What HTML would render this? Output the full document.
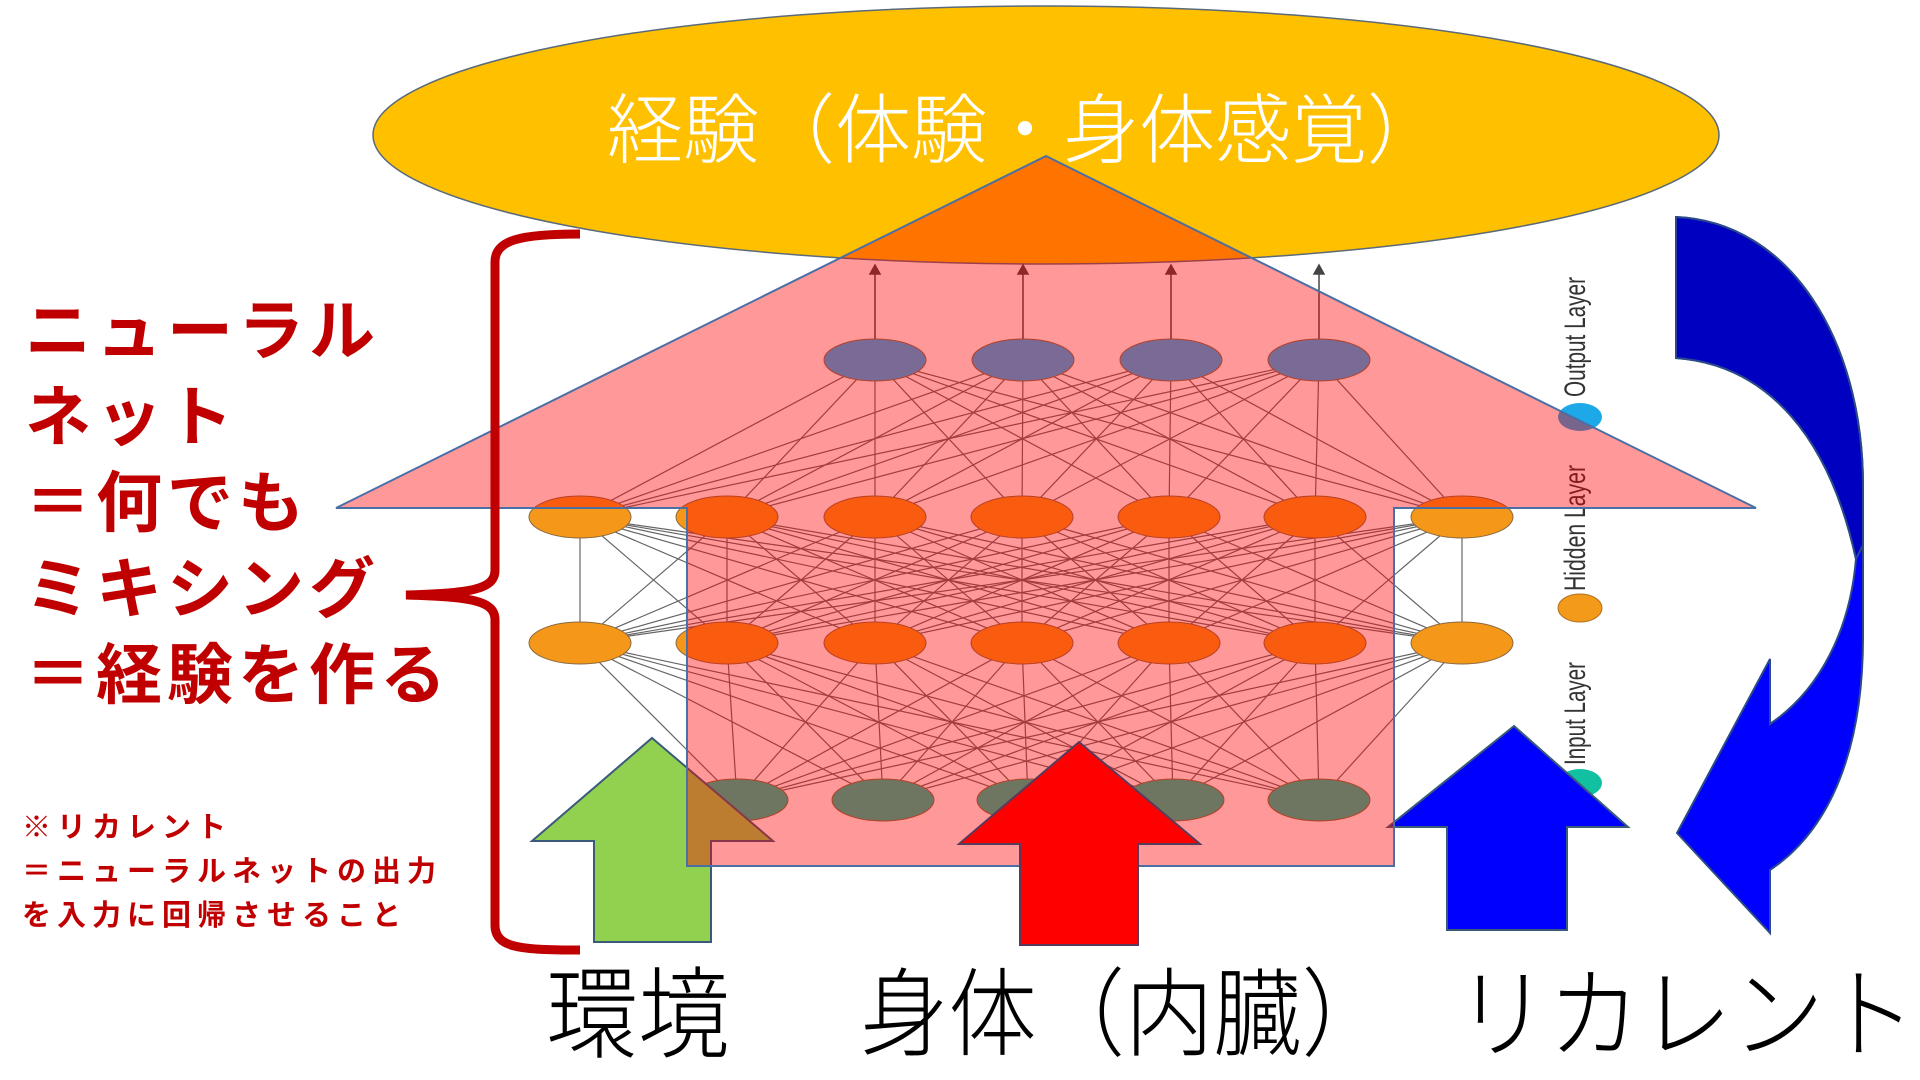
<!DOCTYPE html>
<html><head><meta charset="utf-8"><style>
html,body{margin:0;padding:0;background:#fff;width:1920px;height:1080px;overflow:hidden}
.t{position:absolute;white-space:nowrap;font-family:"Liberation Sans","Noto Sans CJK JP",sans-serif}
.red{color:#c00000;font-weight:bold}
.b{font-weight:300;color:#000;transform-origin:0 0;transform:scaleX(0.92)}
</style></head><body>
<svg width="1920" height="1080" style="position:absolute;left:0;top:0" xmlns="http://www.w3.org/2000/svg">
<ellipse cx="1046" cy="135" rx="673" ry="129" fill="#ffc000" stroke="#5a6a7a" stroke-width="1.5"/>
<g id="lines" stroke="#666" stroke-width="1.2"></g>
<g stroke="#444" stroke-width="1.5" fill="#444">
<line x1="875" y1="340" x2="875" y2="272"/><polygon points="870,274 880,274 875,265"/>
<line x1="1023" y1="340" x2="1023" y2="272"/><polygon points="1018,274 1028,274 1023,265"/>
<line x1="1171" y1="340" x2="1171" y2="272"/><polygon points="1166,274 1176,274 1171,265"/>
<line x1="1319" y1="340" x2="1319" y2="272"/><polygon points="1314,274 1324,274 1319,265"/>
</g>
<g id="nodes" stroke="#8a6a40" stroke-width="1"></g>
<g font-family="Liberation Sans, sans-serif" font-size="30" fill="#333">
<text transform="translate(1585,397) rotate(-90)" textLength="120" lengthAdjust="spacingAndGlyphs">Output Layer</text>
<text transform="translate(1585,591) rotate(-90)" textLength="126" lengthAdjust="spacingAndGlyphs">Hidden Layer</text>
<text transform="translate(1585,765) rotate(-90)" textLength="103" lengthAdjust="spacingAndGlyphs">Input Layer</text>
</g>
<ellipse cx="1580" cy="417" rx="22" ry="14" fill="#1da8e8"/>
<ellipse cx="1580" cy="608" rx="22" ry="14" fill="#f39a1a" stroke="#b07020"/>
<ellipse cx="1580" cy="783" rx="22" ry="14" fill="#10c0a0"/>
<polygon points="652,738 773,841 711,841 711,942 594,942 594,841 532,841" fill="#92d050" stroke="#3a5a7a" stroke-width="2"/>
<polygon points="1514,726 1628,827 1567,827 1567,930 1447,930 1447,827 1388,827" fill="#0000ff" stroke="#3a5a7a" stroke-width="2"/>
<polygon points="1046,156 1756,508 1394,508 1394,866 687,866 687,508 336,508" fill="rgba(255,0,0,0.4)" stroke="#4a6fa5" stroke-width="2"/>
<polygon points="1079,742 1200,844 1138,844 1138,945 1020,945 1020,844 959,844" fill="#ff0000" stroke="#5a3a5a" stroke-width="2"/>
<path d="M1676,217 C1790,222 1863,340 1863,486 L1863,637 C1863,750 1830,830 1770,870 L1770,933 L1677,833 L1770,659 L1770,724 C1820,690 1850,630 1856,559 C1830,440 1770,365 1676,358 Z" fill="#0000ff" stroke="#2a4a8a" stroke-width="2"/>
<path d="M1676,217 C1790,222 1863,340 1863,486 L1863,545 L1856,559 C1830,440 1770,365 1676,358 Z" fill="#0000c0" stroke="#2a4a8a" stroke-width="2"/>
<path d="M580,234 C520,234 495,240 495,262 L495,570 C495,590 470,593 406,595 C470,597 495,600 495,620 L495,925 C495,948 520,950 580,950" fill="none" stroke="#c00000" stroke-width="9"/>
</svg>
<div class="t" style="left:607px;top:86px;font-size:76px;line-height:92px;color:#fff;font-weight:300">経験（体験・身体感覚）</div>
<div class="t red" style="left:25px;top:288px;font-size:66px;line-height:86px;letter-spacing:5px">ニューラル<br>ネット<br>＝何でも<br>ミキシング<br>＝経験を作る</div>
<div class="t red" style="left:22px;top:806px;font-size:29px;line-height:44px;letter-spacing:6px">※リカレント<br>＝ニューラルネットの出力<br>を入力に回帰させること</div>
<div class="t b" style="left:546px;top:960px;font-size:100px;line-height:112px">環境</div>
<div class="t b" style="left:860px;top:960px;font-size:96px;line-height:112px">身体（内臓）</div>
<div class="t b" style="left:1456px;top:960px;font-size:100px;line-height:112px">リカレント</div>
<script>
var NS="http://www.w3.org/2000/svg";
var out=[875,1023,1171,1319],hid=[580,727,875,1022,1169,1315,1462],inp=[737,883,1028,1173,1319];
var yO=360,yH1=517,yH2=643,yI=800;
var L=document.getElementById('lines'),N=document.getElementById('nodes');
function ln(a,b,c,d){var e=document.createElementNS(NS,'line');e.setAttribute('x1',a);e.setAttribute('y1',b);e.setAttribute('x2',c);e.setAttribute('y2',d);L.appendChild(e);}
function nd(x,y,f){var e=document.createElementNS(NS,'ellipse');e.setAttribute('cx',x);e.setAttribute('cy',y);e.setAttribute('rx',51);e.setAttribute('ry',21);e.setAttribute('fill',f);N.appendChild(e);}
out.forEach(function(o){hid.forEach(function(h){ln(o,yO,h,yH1);});});
hid.forEach(function(a){hid.forEach(function(b){ln(a,yH1,b,yH2);});});
hid.forEach(function(h){inp.forEach(function(i){ln(h,yH2,i,yI);});});
out.forEach(function(x){nd(x,yO,'#21b1fa');});
hid.forEach(function(x){nd(x,yH1,'#f5981a');nd(x,yH2,'#f5981a');});
inp.forEach(function(x){nd(x,yI,'#0ec3a0');});
</script>
</body></html>
